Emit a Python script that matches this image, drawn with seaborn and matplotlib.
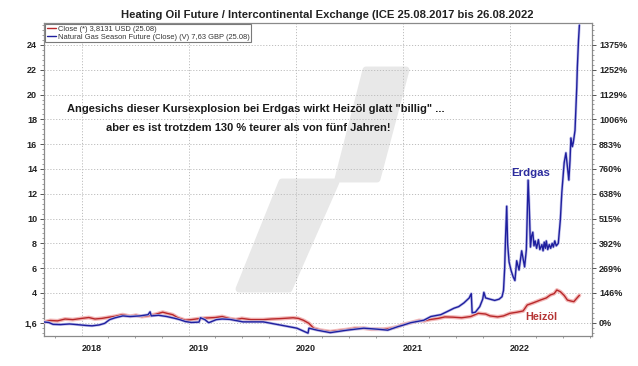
import matplotlib
matplotlib.use("Agg")
import matplotlib.pyplot as plt
import matplotlib.dates as mdates
import matplotlib.patheffects as pe
from matplotlib.patches import Polygon
from matplotlib.ticker import MultipleLocator
import seaborn as sns
import pandas as pd

# ---------------- data ----------------
oil_dates = [
    "2017-08-25", "2017-09-15", "2017-10-10", "2017-11-05", "2017-12-01", "2018-01-01",
    "2018-01-25", "2018-02-15", "2018-03-10", "2018-04-05", "2018-04-25", "2018-05-20",
    "2018-06-15", "2018-07-05", "2018-07-25", "2018-08-20", "2018-09-10", "2018-10-04",
    "2018-10-20", "2018-11-07", "2018-11-25", "2018-12-20", "2019-01-10", "2019-02-01",
    "2019-03-01", "2019-04-01", "2019-04-25", "2019-05-21", "2019-06-10", "2019-07-01",
    "2019-08-01", "2019-09-12", "2019-10-10", "2019-11-08", "2019-12-23", "2020-01-10",
    "2020-01-27", "2020-02-15", "2020-03-02", "2020-03-25", "2020-04-28", "2020-05-20",
    "2020-06-24", "2020-07-20", "2020-08-20", "2020-09-15", "2020-10-28", "2020-11-20",
    "2020-12-14", "2021-01-01", "2021-01-27", "2021-02-25", "2021-03-13", "2021-04-01",
    "2021-05-01", "2021-05-24", "2021-06-20", "2021-07-20", "2021-08-20", "2021-09-15",
    "2021-10-10", "2021-10-25", "2021-11-20", "2021-12-10", "2022-01-01", "2022-01-25",
    "2022-02-15", "2022-03-01", "2022-03-21", "2022-04-15", "2022-05-05", "2022-05-19",
    "2022-06-01", "2022-06-10", "2022-06-22", "2022-07-05", "2022-07-16", "2022-07-28",
    "2022-08-07", "2022-08-18", "2022-08-26",
]
oil_values = [
    1.66, 1.78, 1.75, 1.90, 1.85, 1.95,
    2.02, 1.90, 1.95, 2.05, 2.12, 2.25,
    2.12, 2.20, 2.10, 2.18, 2.28, 2.45,
    2.35, 2.25, 2.00, 1.80, 1.85, 1.92,
    1.98, 2.02, 2.10, 1.93, 1.85, 1.95,
    1.85, 1.85, 1.90, 1.93, 2.00, 1.95,
    1.80, 1.55, 1.16, 1.00, 0.88, 0.95,
    1.05, 1.15, 1.16, 1.08, 1.08, 1.15,
    1.28, 1.45, 1.60, 1.78, 1.75, 1.85,
    1.95, 2.07, 2.05, 2.00, 2.10, 2.36,
    2.30, 2.15, 2.07, 2.15, 2.36, 2.45,
    2.55, 3.03, 3.20, 3.43, 3.60, 3.84,
    3.95, 4.24, 4.10, 3.80, 3.43, 3.35,
    3.30, 3.60, 3.81,
]

gas_dates = [
    "2017-08-25", "2017-09-10", "2017-09-25", "2017-10-20", "2017-11-20", "2017-12-15",
    "2018-01-15", "2018-02-05", "2018-03-01", "2018-03-20", "2018-04-06", "2018-04-25",
    "2018-05-21", "2018-06-15", "2018-07-18", "2018-08-15", "2018-08-22", "2018-08-26",
    "2018-09-20", "2018-10-18", "2018-11-15", "2018-12-01", "2018-12-20", "2019-01-10",
    "2019-02-05", "2019-02-10", "2019-02-25", "2019-03-10", "2019-04-05", "2019-04-25",
    "2019-05-21", "2019-07-05", "2019-09-12", "2019-11-08", "2020-01-05", "2020-02-12",
    "2020-02-15", "2020-03-14", "2020-04-28", "2020-06-24", "2020-08-20", "2020-10-06",
    "2020-11-10", "2020-12-14", "2021-01-01", "2021-01-27", "2021-03-13", "2021-04-06",
    "2021-05-10", "2021-06-01", "2021-06-24", "2021-07-10", "2021-07-28", "2021-08-15",
    "2021-08-22", "2021-08-25", "2021-09-05", "2021-09-20", "2021-09-30", "2021-10-04",
    "2021-10-10", "2021-10-25", "2021-11-10", "2021-11-25", "2021-12-05", "2021-12-10",
    "2021-12-14", "2021-12-17", "2021-12-21", "2021-12-24", "2021-12-29", "2022-01-05",
    "2022-01-12", "2022-01-18", "2022-01-24", "2022-02-01", "2022-02-10", "2022-02-20",
    "2022-02-26", "2022-03-04", "2022-03-08", "2022-03-12", "2022-03-16", "2022-03-20",
    "2022-03-24", "2022-03-28", "2022-04-02", "2022-04-08", "2022-04-13", "2022-04-20",
    "2022-04-24", "2022-04-28", "2022-05-02", "2022-05-05", "2022-05-10", "2022-05-15",
    "2022-05-20", "2022-05-25", "2022-05-29", "2022-06-03", "2022-06-08", "2022-06-15",
    "2022-06-22", "2022-06-27", "2022-07-05", "2022-07-11", "2022-07-16",
    "2022-07-21", "2022-07-25", "2022-07-28", "2022-08-02", "2022-08-05", "2022-08-11",
    "2022-08-17", "2022-08-19", "2022-08-23", "2022-08-26",
]
gas_values = [
    1.66, 1.62, 1.47, 1.45, 1.50, 1.45,
    1.38, 1.35, 1.42, 1.55, 1.85, 2.00,
    2.15, 2.10, 2.15, 2.25, 2.48, 2.15,
    2.20, 2.10, 1.95, 1.85, 1.70, 1.62,
    1.65, 2.00, 1.85, 1.60, 1.85, 1.90,
    1.87, 1.67, 1.67, 1.42, 1.16, 0.76,
    1.16, 1.00, 0.80, 1.00, 1.16, 1.08,
    1.00, 1.28, 1.40, 1.60, 1.80, 2.10,
    2.25, 2.50, 2.77, 2.90, 3.20, 3.60,
    3.95, 2.40, 2.45, 2.90, 3.50, 4.05,
    3.60, 3.50, 3.40, 3.50, 3.70, 4.20,
    6.00, 8.50, 11.00, 8.00, 6.50, 5.80,
    5.30, 5.00, 6.60, 5.85, 7.40, 6.10,
    7.50, 13.10, 10.90, 7.70, 8.60, 8.90,
    7.80, 8.20, 7.60, 8.30, 7.50, 7.90,
    7.40, 8.10, 7.60, 8.20, 7.50, 7.90,
    7.60, 8.00, 7.70, 8.20, 7.80, 8.00,
    9.90, 12.10, 14.50, 15.30, 14.20,
    13.10, 14.70, 16.50, 15.80, 16.10, 17.10,
    20.60, 22.20, 24.40, 25.60,
]

left_ticks = [1.6, 4, 6, 8, 10, 12, 14, 16, 18, 20, 22, 24]
left_labels = ["1,6", "4", "6", "8", "10", "12", "14", "16", "18", "20", "22", "24"]
right_labels = ["0%", "146%", "269%", "392%", "515%", "638%", "760%", "883%",
                "1006%", "1129%", "1252%", "1375%"]

title = "Heating Oil Future / Intercontinental Exchange (ICE 25.08.2017 bis 26.08.2022"
legend_oil = "Close (*) 3,8131 USD (25.08)"
legend_gas = "Natural Gas Season Future (Close) (V) 7,63 GBP (25.08)"
note1 = 'Angesichs dieser Kursexplosion bei Erdgas wirkt Heizöl glatt "billig" ...'
note2 = "aber es ist trotzdem 130 % teurer als von fünf Jahren!"

# ---------------- style ----------------
sns.set_theme(style="white")
plt.rcParams["font.family"] = ["Liberation Sans", "DejaVu Sans"]

W, H = 638, 366
fig = plt.figure(figsize=(W / 100, H / 100), dpi=100)
fig.patch.set_facecolor("white")
ax = fig.add_axes([44 / W, 1 - 336 / H, (592 - 44) / W, (336 - 23) / H])
ax.set_facecolor("white")

RED = "#b8282a"
BLUE = "#1f1f9e"
GRID = "#bdbdbd"

oil = pd.DataFrame({"date": pd.to_datetime(oil_dates), "value": oil_values})
gas = pd.DataFrame({"date": pd.to_datetime(gas_dates), "value": gas_values})

sns.lineplot(data=oil, x="date", y="value", ax=ax, color=RED, linewidth=1.0,
             estimator=None, label=legend_oil, zorder=4,
             path_effects=[pe.Stroke(linewidth=2.8, foreground="#f2b8b8"), pe.Normal()])
sns.lineplot(data=gas, x="date", y="value", ax=ax, color=BLUE, linewidth=1.0,
             estimator=None, label=legend_gas, zorder=5,
             path_effects=[pe.Stroke(linewidth=2.0, foreground="#c0c0ea"), pe.Normal()])

# watermark (figure pixel geometry)
def fp(pts):
    return [(x / W, 1 - y / H) for x, y in pts]

wm_col = "#e8e8e8"
for pts in ([(366, 70), (406, 70), (377, 179), (338, 179)],
            [(282, 182), (336, 182), (289, 289), (239, 289)]):
    ax.add_patch(Polygon(fp(pts), closed=True, transform=fig.transFigure,
                         facecolor=wm_col, edgecolor=wm_col, linewidth=5,
                         joinstyle="round", zorder=0.2))

ax.set_xlim(pd.Timestamp("2017-08-25"), pd.Timestamp("2022-10-08"))
ax.set_ylim(0.53, 25.77)
ax.set_yticks(left_ticks)
ax.set_yticklabels(left_labels)
ax.yaxis.set_minor_locator(MultipleLocator(0.4))
ax.xaxis.set_major_locator(mdates.YearLocator())
ax.xaxis.set_major_formatter(mdates.DateFormatter("%Y"))
ax.xaxis.set_minor_locator(mdates.MonthLocator(bymonth=[4, 7, 10]))
ax.set_xlabel("")
ax.set_ylabel("")

ax.grid(True, which="major", color=GRID, linestyle=(0, (1.2, 1.8)), linewidth=0.7)
ax.set_axisbelow(True)

for s in ax.spines.values():
    s.set_color("#8a8a8a")
    s.set_linewidth(0.9)

ax.tick_params(axis="y", which="major", length=3, width=0.7, color="#555555",
               labelsize=6.5, pad=2, labelcolor="#222222")
ax.tick_params(axis="y", which="minor", length=1.6, width=0.5, color="#777777", left=True)
ax.tick_params(axis="x", which="major", length=3, width=0.7, color="#555555",
               labelsize=6.5, pad=3, labelcolor="#222222")
ax.tick_params(axis="x", which="minor", length=1.5, width=0.5, color="#777777", bottom=True)
for lab in ax.get_yticklabels() + ax.get_xticklabels():
    lab.set_fontweight("bold")
for lab in ax.get_xticklabels():
    lab.set_horizontalalignment("left")

ax2 = ax.twinx()
ax2.set_ylim(ax.get_ylim())
ax2.set_yticks(left_ticks)
ax2.set_yticklabels(right_labels)
ax2.yaxis.set_minor_locator(MultipleLocator(0.4))
ax2.tick_params(axis="y", which="major", length=3, width=0.7, color="#555555",
                labelsize=6.5, pad=2, labelcolor="#222222")
ax2.tick_params(axis="y", which="minor", length=1.6, width=0.5, color="#777777", right=True)
for lab in ax2.get_yticklabels():
    lab.set_fontweight("bold")
for s in ax2.spines.values():
    s.set_visible(False)
ax2.grid(False)

leg = ax.legend(loc="upper left", bbox_to_anchor=(0.0, 1.0), borderaxespad=0.15,
                fontsize=5.4, handlelength=1.2, handletextpad=0.3, labelspacing=0.1,
                borderpad=0.2, frameon=True, fancybox=False, framealpha=1)
leg.get_frame().set_edgecolor("#7a7a7a")
leg.get_frame().set_linewidth(0.8)
for line in leg.get_lines():
    line.set_path_effects([])
    line.set_linewidth(1.0)
for t in leg.get_texts():
    t.set_color("#333333")
leg.set_zorder(10)

fig.text(327 / W, 1 - 15 / H, title, ha="center", va="center", fontsize=8.1,
         fontweight="bold", color="#222222")
fig.text(256 / W, 1 - 109 / H, note1, ha="center", va="center", fontsize=8.0,
         fontweight="bold", color="#1a1a1a")
fig.text(248 / W, 1 - 128 / H, note2, ha="center", va="center", fontsize=8.0,
         fontweight="bold", color="#1a1a1a")
fig.text(531 / W, 1 - 173 / H, "Erdgas", ha="center", va="center", fontsize=8.2,
         fontweight="bold", color="#2b2b9e")
fig.text(541 / W, 1 - 317 / H, "Heizöl", ha="center", va="center", fontsize=7.8,
         fontweight="bold", color="#b53434")

fig.savefig("out.png", dpi=100, facecolor="white")
